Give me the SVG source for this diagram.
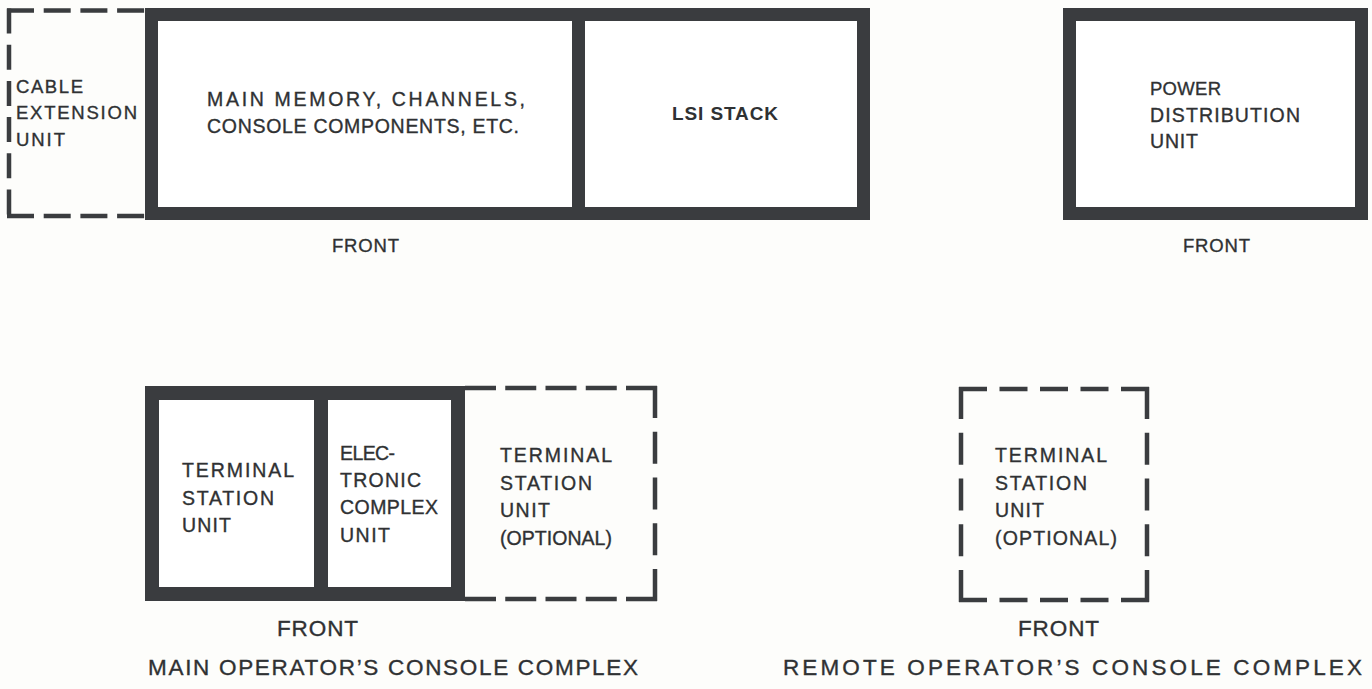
<svg xmlns="http://www.w3.org/2000/svg" width="1372" height="689" viewBox="0 0 1372 689">
<style>
.bg{fill:#fdfdfb}
.frame{fill:#ffffff;stroke:#3a3c3f;stroke-width:13}
.div{stroke:#3a3c3f;stroke-width:13;fill:none}
.dash{stroke:#3a3c3f;stroke-width:4.5;fill:none}
text{font-family:"Liberation Sans",Arial,sans-serif;font-size:19.5px;fill:#2f3133;stroke:#2f3133;stroke-width:0.35}
.s{font-size:18.5px}
.b{font-weight:bold;font-size:19px;stroke-width:0}
.lbl{font-size:22.5px}
</style>
<rect class="bg" x="0" y="0" width="1372" height="689"/>
<g id="main-frame">
  <rect class="frame" x="151.5" y="14.5" width="712" height="199"/>
  <line class="div" x1="578.5" y1="14" x2="578.5" y2="214"/>
</g>
<g id="cable-extension-unit">
  <line class="dash" x1="7" y1="10.5" x2="145" y2="10.5" stroke-dasharray="27 9.7"/>
  <line class="dash" x1="9" y1="8.5" x2="9" y2="218" stroke-dasharray="25 11.2"/>
  <line class="dash" x1="7" y1="216" x2="145" y2="216" stroke-dasharray="27 9.7"/>
  <text class="s" x="16" y="93" textLength="67">CABLE</text>
  <text class="s" x="16" y="119" textLength="121">EXTENSION</text>
  <text class="s" x="16" y="146" textLength="49">UNIT</text>
</g>
<g id="main-memory">
  <text x="207" y="106" textLength="318">MAIN MEMORY, CHANNELS,</text>
  <text x="207" y="133" textLength="312">CONSOLE COMPONENTS, ETC.</text>
</g>
<g id="lsi-stack">
  <text class="b" x="672" y="120" textLength="106">LSI STACK</text>
</g>
<text class="s" x="332" y="252" textLength="67">FRONT</text>
<g id="power-distribution-unit">
  <rect class="frame" x="1069.5" y="14.5" width="292" height="199"/>
  <text class="s" x="1150" y="95" textLength="71">POWER</text>
  <text x="1150" y="122" textLength="150">DISTRIBUTION</text>
  <text x="1150" y="148" textLength="48">UNIT</text>
</g>
<text class="s" x="1183" y="252" textLength="67">FRONT</text>
<g id="main-console-frame">
  <rect class="frame" x="152" y="393" width="306" height="201" style="stroke-width:14"/>
  <line class="div" x1="321" y1="393" x2="321" y2="594" style="stroke-width:14"/>
</g>
<g id="terminal-station-unit">
  <text x="182" y="477" textLength="112">TERMINAL</text>
  <text x="182" y="505" textLength="92">STATION</text>
  <text x="182" y="532" textLength="49">UNIT</text>
</g>
<g id="electronic-complex-unit">
  <text x="340" y="460" textLength="55">ELEC-</text>
  <text x="340" y="487" textLength="81">TRONIC</text>
  <text x="340" y="514" textLength="98">COMPLEX</text>
  <text x="340" y="542" textLength="50">UNIT</text>
</g>
<g id="terminal-station-unit-optional">
  <line class="dash" x1="465" y1="388" x2="657" y2="388" stroke-dasharray="31 9.25"/>
  <line class="dash" x1="655" y1="386" x2="655" y2="601" stroke-dasharray="32 13.75"/>
  <line class="dash" x1="465" y1="599" x2="657" y2="599" stroke-dasharray="31 9.25"/>
  <text x="500" y="462" textLength="112">TERMINAL</text>
  <text x="500" y="490" textLength="92">STATION</text>
  <text x="500" y="517" textLength="50">UNIT</text>
  <text x="500" y="545" textLength="112">(OPTIONAL)</text>
</g>
<text class="lbl" x="277" y="636" textLength="81">FRONT</text>
<text class="lbl" x="148" y="675" textLength="490">MAIN OPERATOR’S CONSOLE COMPLEX</text>
<g id="remote-terminal-station-unit">
  <line class="dash" x1="959" y1="389" x2="1149" y2="389" stroke-dasharray="28 12.5"/>
  <line class="dash" x1="961" y1="387" x2="961" y2="602" stroke-dasharray="32 13.75"/>
  <line class="dash" x1="1147" y1="387" x2="1147" y2="602" stroke-dasharray="32 13.75"/>
  <line class="dash" x1="959" y1="600" x2="1149" y2="600" stroke-dasharray="28 12.5"/>
  <text x="995" y="462" textLength="112">TERMINAL</text>
  <text x="995" y="490" textLength="92">STATION</text>
  <text x="995" y="517" textLength="49">UNIT</text>
  <text x="995" y="545" textLength="122">(OPTIONAL)</text>
</g>
<text class="lbl" x="1018" y="636" textLength="81">FRONT</text>
<text class="lbl" x="783" y="675" textLength="579">REMOTE OPERATOR’S CONSOLE COMPLEX</text>
<g id="connectors"/>
</svg>
